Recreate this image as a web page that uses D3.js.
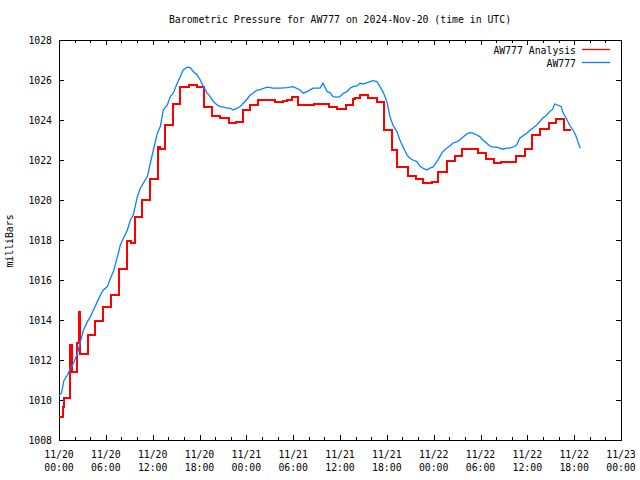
<!DOCTYPE html>
<html><head><meta charset="utf-8">
<script src="https://cdn.jsdelivr.net/npm/d3@7"></script>
<style>body{margin:0;background:#fff}svg{display:block}text{font-family:"DejaVu Sans Mono","Liberation Mono",monospace;font-size:9.8px;fill:#000}</style>
</head><body>
<svg id="c" width="640" height="480"></svg>
<script>
const title = "Barometric Pressure for AW777 on 2024-Nov-20 (time in UTC)";
const yLabel = "milliBars";
const seriesNames = ["AW777 Analysis", "AW777"];
const xTickDates = ["11/20","11/20","11/20","11/20","11/21","11/21","11/21","11/21","11/22","11/22","11/22","11/22","11/23"];
const xTickTimes = ["00:00","06:00","12:00","18:00","00:00","06:00","12:00","18:00","00:00","06:00","12:00","18:00","00:00"];
const yTicks = [1008,1010,1012,1014,1016,1018,1020,1022,1024,1026,1028];

// Analysis (step series): hours since 11/20 00:00 UTC, pressure (mb)
const analysisHours = [0,0.49,0.58,1.38,1.69,2.33,2.53,2.71,3.73,4.58,5.65,6.68,7.65,8.72,9.18,9.69,10.64,11.66,12.64,12.98,13.62,14.64,15.54,16.69,17.67,18.61,19.59,20.65,21.72,22.70,23.56,24.49,25.55,27.69,28.75,29.18,29.82,30.67,32.68,34.63,35.66,36.77,37.70,37.92,38.56,39.62,40.70,41.63,42.61,42.69,43.33,44.74,45.72,46.66,47.73,48.57,49.65,50.71,51.69,53.69,54.67,55.70,56.59,58.60,59.66,60.65,61.67,62.77,63.71,64.65,65.63];
const analysisValues = [1009.17,1009.63,1010.08,1012.73,1011.42,1012.87,1014.42,1012.28,1013.23,1013.95,1014.63,1015.23,1016.53,1017.93,1017.87,1019.13,1019.98,1021.03,1022.63,1022.55,1023.73,1024.80,1025.67,1025.73,1025.63,1024.67,1024.18,1024.08,1023.83,1023.88,1024.50,1024.75,1025.00,1024.92,1024.95,1025.00,1025.13,1024.75,1024.80,1024.63,1024.53,1024.75,1025.03,1025.08,1025.25,1025.12,1024.88,1023.50,1023.00,1022.50,1021.67,1021.20,1021.05,1020.83,1020.92,1021.38,1021.95,1022.20,1022.53,1022.33,1022.05,1021.87,1021.90,1022.20,1022.53,1023.23,1023.53,1023.87,1024.03,1023.48,1023.48];

// Station observations
const obsHours = [0,0.32,0.61,1.09,1.47,1.85,2.37,2.75,3.13,3.64,4.03,4.41,4.92,5.31,5.69,6.20,6.59,6.97,7.48,7.86,8.25,8.76,9.14,9.52,10.04,10.42,10.81,11.32,11.70,12.09,12.60,12.98,13.36,13.88,14.26,14.64,15.15,15.54,15.92,16.43,16.82,17.20,17.71,18.10,18.48,18.99,19.38,19.76,20.27,20.65,21.04,21.55,21.93,22.32,22.83,23.21,23.60,24.11,24.49,24.88,25.39,25.77,26.67,27.43,28.33,29.22,29.99,30.89,31.27,31.78,32.55,33.44,33.83,34.34,34.72,35.11,35.62,36.00,36.39,36.90,37.28,37.66,38.18,38.56,38.94,39.46,39.84,40.22,40.73,41.12,41.50,42.01,42.40,42.78,43.29,43.67,44.06,44.57,44.95,45.34,45.85,46.23,46.61,47.13,47.51,47.89,48.40,48.79,49.17,49.68,50.07,50.45,50.97,51.35,51.73,52.24,52.63,53.01,53.52,53.91,54.29,54.80,55.19,55.57,56.08,56.47,56.85,57.36,57.74,58.13,58.64,59.02,59.41,59.92,60.30,60.69,61.20,61.58,61.96,62.48,62.86,63.24,63.50,63.88,64.35,64.56,64.99,65.41,65.84,66.18,66.48,66.78];
const obsValues = [1010.22,1010.35,1010.95,1011.25,1011.59,1011.84,1012.34,1012.92,1013.50,1013.92,1014.17,1014.50,1014.92,1015.25,1015.50,1015.67,1016.09,1016.42,1017.17,1017.75,1018.09,1018.50,1019.00,1019.25,1020.17,1020.59,1020.84,1021.17,1021.84,1022.50,1023.34,1023.67,1024.50,1024.75,1025.17,1025.34,1025.84,1026.17,1026.50,1026.64,1026.62,1026.42,1026.25,1026.00,1025.67,1025.34,1025.17,1024.92,1024.75,1024.67,1024.64,1024.59,1024.59,1024.50,1024.59,1024.67,1024.84,1025.05,1025.25,1025.35,1025.50,1025.52,1025.64,1025.59,1025.59,1025.62,1025.67,1025.50,1025.34,1025.42,1025.59,1025.59,1025.84,1025.42,1025.37,1025.17,1025.14,1025.17,1025.34,1025.42,1025.59,1025.67,1025.70,1025.84,1025.80,1025.87,1025.92,1025.97,1025.92,1025.67,1025.42,1024.92,1024.17,1023.75,1023.42,1023.00,1022.67,1022.25,1022.09,1022.00,1021.92,1021.70,1021.59,1021.50,1021.59,1021.64,1021.90,1022.17,1022.42,1022.59,1022.70,1022.84,1022.92,1023.00,1023.14,1023.30,1023.37,1023.34,1023.25,1023.17,1023.00,1022.84,1022.70,1022.64,1022.64,1022.59,1022.54,1022.59,1022.59,1022.64,1022.75,1023.09,1023.20,1023.34,1023.47,1023.59,1023.75,1023.92,1024.09,1024.25,1024.42,1024.54,1024.80,1024.75,1024.67,1024.37,1024.09,1023.75,1023.50,1023.25,1022.92,1022.59];

const svg = d3.select("#c");
const L = 59, R = 621, T = 40, B = 440;
const x = d3.scaleLinear().domain([0, 72]).range([L, R]);
const y = d3.scaleLinear().domain([1008, 1028]).range([B, T]);

svg.append("text").attr("x", 340).attr("y", 23).attr("text-anchor", "middle").text(title);
svg.append("text").attr("transform", "translate(13,241) rotate(-90)").attr("text-anchor", "middle").text(yLabel);

const g = svg.append("g");
const line = (x1,y1,x2,y2) => g.append("line").attr("x1",x1).attr("y1",y1).attr("x2",x2).attr("y2",y2).attr("stroke","#000").attr("stroke-width",1).attr("shape-rendering","crispEdges");

// x ticks: minor every 2h, major every 6h, mirrored
d3.range(0, 73, 2).forEach(h => {
  const len = h % 6 === 0 ? 5 : 3;
  const px = Math.round(x(h)) + 0.5;
  line(px, B, px, B - len);
  line(px, T, px, T + len);
});
d3.range(0, 73, 6).forEach((h, i) => {
  svg.append("text").attr("x", x(h)).attr("y", 458).attr("text-anchor", "middle").text(xTickDates[i]);
  svg.append("text").attr("x", x(h)).attr("y", 471).attr("text-anchor", "middle").text(xTickTimes[i]);
});
yTicks.forEach(v => {
  const py = Math.round(y(v)) + 0.5;
  line(L, py, L + 5, py);
  line(R, py, R - 5, py);
  svg.append("text").attr("x", 52).attr("y", y(v) + 3.5).attr("text-anchor", "end").text(v);
});

// frame
g.append("rect").attr("x", L + 0.5).attr("y", T + 0.5).attr("width", R - L).attr("height", B - T)
  .attr("fill", "none").attr("stroke", "#000").attr("shape-rendering", "crispEdges");

const colors = ["#ff0000", "#0a80ff"];
const analysis = analysisHours.map((h, i) => [h, analysisValues[i]]);
const obs = obsHours.map((h, i) => [h, obsValues[i]]);

svg.append("path").datum(analysis)
  .attr("d", d3.line().x(d => Math.round(x(d[0]))).y(d => Math.round(y(d[1]))).curve(d3.curveStepAfter))
  .attr("fill", "none").attr("stroke", colors[0]).attr("stroke-width", 2)
  .attr("shape-rendering", "crispEdges");
svg.append("path").datum(obs)
  .attr("d", d3.line().x(d => x(d[0])).y(d => y(d[1])))
  .attr("fill", "none").attr("stroke", colors[1]).attr("stroke-width", 1.3);

// legend
seriesNames.forEach((n, i) => {
  const ly = 50 + i * 13;
  svg.append("text").attr("x", 576).attr("y", ly + 3.5).attr("text-anchor", "end").text(n);
  svg.append("line").attr("x1", 582).attr("x2", 610).attr("y1", ly - 0.5).attr("y2", ly - 0.5)
    .attr("stroke", colors[i]).attr("stroke-width", 1.3);
});
</script>
</body></html>
